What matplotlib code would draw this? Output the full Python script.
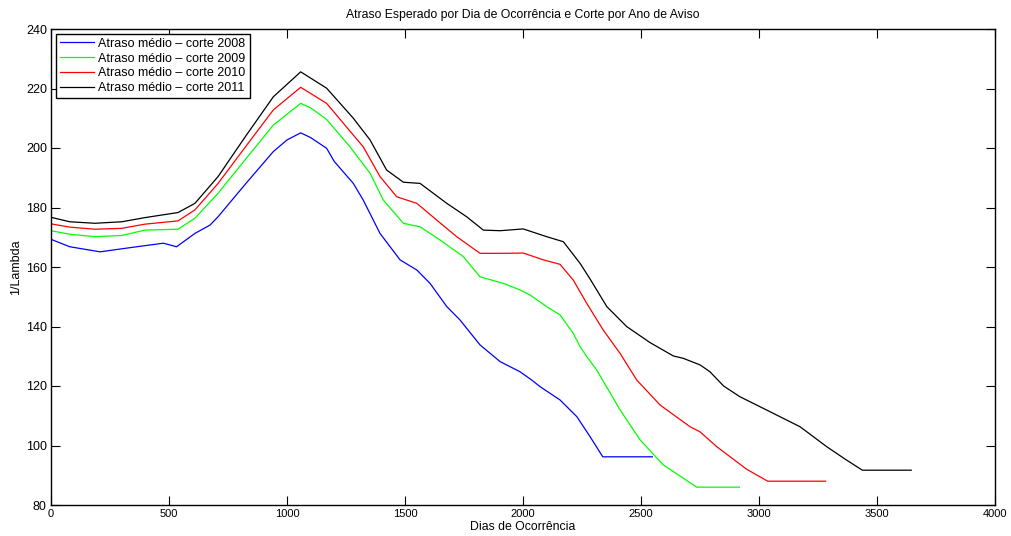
import matplotlib
matplotlib.use("Agg")
import matplotlib.pyplot as plt
from matplotlib import font_manager

# ---- data ----
days_2008 = [0, 80, 208, 335, 476, 532, 610, 674, 708, 825, 942, 1000, 1058, 1100, 1168, 1200,
             1281, 1323, 1394, 1479, 1550, 1606, 1677, 1733, 1818, 1903, 1987, 2037, 2072,
             2157, 2228, 2284, 2338, 2548]
vals_2008 = [169.3, 166.8, 165.1, 166.5, 168.0, 166.8, 171.3, 174.1, 176.9, 188.0, 198.8, 202.7, 205.1, 203.5, 199.9, 195.5,
             188.1, 182.5, 171.3, 162.4, 159.0, 154.5, 146.7, 142.2, 133.8, 128.2, 124.8, 122.0, 119.8,
             115.3, 109.7, 103.0, 96.2, 96.2]

days_2009 = [0, 80, 186, 300, 398, 538, 610, 708, 825, 942, 1058, 1100, 1168, 1267, 1352, 1408,
             1493, 1564, 1648, 1747, 1818, 1917, 1987, 2030, 2100, 2157, 2213, 2242, 2270, 2312,
             2411, 2496, 2594, 2736, 2917]
vals_2009 = [172.2, 171.0, 170.2, 170.6, 172.4, 172.7, 176.4, 184.8, 196.3, 207.7, 215.0, 213.5, 209.6, 200.4, 191.5, 182.5,
             174.7, 173.5, 169.1, 163.5, 156.7, 154.5, 152.3, 150.6, 146.7, 143.9, 137.7, 133.2, 129.9, 125.4,
             112.0, 101.9, 93.5, 86.0, 86.0]

days_2010 = [0, 80, 186, 300, 398, 538, 610, 708, 825, 942, 1058, 1168, 1239, 1323, 1394, 1465,
             1550, 1634, 1719, 1818, 1917, 2001, 2086, 2157, 2213, 2270, 2340, 2411, 2482, 2581,
             2708, 2750, 2821, 2948, 3037, 3282]
vals_2010 = [174.5, 173.4, 172.7, 173.0, 174.4, 175.5, 179.2, 188.1, 200.5, 212.8, 220.4, 215.0, 208.3, 200.4, 190.4, 183.6,
             181.4, 175.8, 170.2, 164.6, 164.6, 164.7, 162.4, 160.9, 155.6, 147.8, 138.8, 131.0, 122.0, 113.6,
             106.3, 104.6, 99.6, 92.0, 88.0, 88.0]

days_2011 = [0, 80, 186, 300, 398, 538, 610, 708, 825, 942, 1058, 1168, 1281, 1352, 1422, 1493,
             1564, 1677, 1761, 1832, 1903, 2001, 2100, 2171, 2242, 2284, 2355, 2439, 2538, 2637,
             2679, 2750, 2792, 2850, 2919, 3033, 3174, 3287, 3371, 3438, 3645]
vals_2011 = [176.7, 175.2, 174.7, 175.2, 176.6, 178.3, 181.4, 190.4, 204.0, 217.2, 225.6, 220.1, 210.0, 202.7, 192.6, 188.5,
             188.1, 181.4, 176.9, 172.4, 172.2, 172.8, 170.2, 168.5, 161.2, 156.0, 146.7, 140.0, 134.6, 130.1,
             129.3, 127.1, 124.8, 120.0, 116.4, 111.9, 106.3, 99.6, 95.1, 91.7, 91.7]

labels = ["Atraso médio \u2013 corte 2008", "Atraso médio \u2013 corte 2009",
          "Atraso médio \u2013 corte 2010", "Atraso médio \u2013 corte 2011"]
colors = ["#0000ff", "#00ff00", "#ff0000", "#000000"]

x_ticks = [0, 500, 1000, 1500, 2000, 2500, 3000, 3500, 4000]
y_ticks = [80, 100, 120, 140, 160, 180, 200, 220, 240]

# ---- figure ----
plt.rcParams['font.family'] = ['Liberation Sans', 'DejaVu Sans']
fig = plt.figure(figsize=(10.12, 5.36), dpi=100)
ax = fig.add_axes([51/1012, 31/536, (995-51)/1012, (505-29)/536])

series = [(days_2008, vals_2008), (days_2009, vals_2009), (days_2010, vals_2010), (days_2011, vals_2011)]
for (d, v), lab, c in zip(series, labels, colors):
    ax.plot(d, v, color=c, lw=0.9, label=lab)

ax.set_xlim(0, 4000)
ax.set_ylim(80, 240)
ax.set_xticks(x_ticks)
ax.set_yticks(y_ticks)
ax.tick_params(direction='in', length=6.5, width=0.8, top=True, right=True, pad=3)
ax.tick_params(axis='y', labelsize=9)
ax.tick_params(axis='x', labelsize=8)
for s in ax.spines.values():
    s.set_linewidth(1.0)

narrow = [f for f in ['Liberation Sans Narrow'] if any(ff.name == f for ff in font_manager.fontManager.ttflist)]
xfam = narrow + ['Liberation Sans', 'DejaVu Sans']
for t in ax.get_xticklabels():
    t.set_family(xfam)

ax.set_title("Atraso Esperado por Dia de Ocorrência e Corte por Ano de Aviso", fontsize=8.8, pad=8)
ax.set_xlabel("Dias de Ocorrência", fontsize=8.8, labelpad=1, family=xfam)
ax.set_ylabel("1/Lambda", fontsize=9, labelpad=3)

leg = ax.legend(loc='upper left', fontsize=9, fancybox=False, framealpha=1,
                edgecolor='black', borderaxespad=0.4, handlelength=2.7, labelspacing=0.22,
                borderpad=0.3, handletextpad=0.4)
leg.get_frame().set_linewidth(1.0)

fig.savefig("out.png", dpi=100)
